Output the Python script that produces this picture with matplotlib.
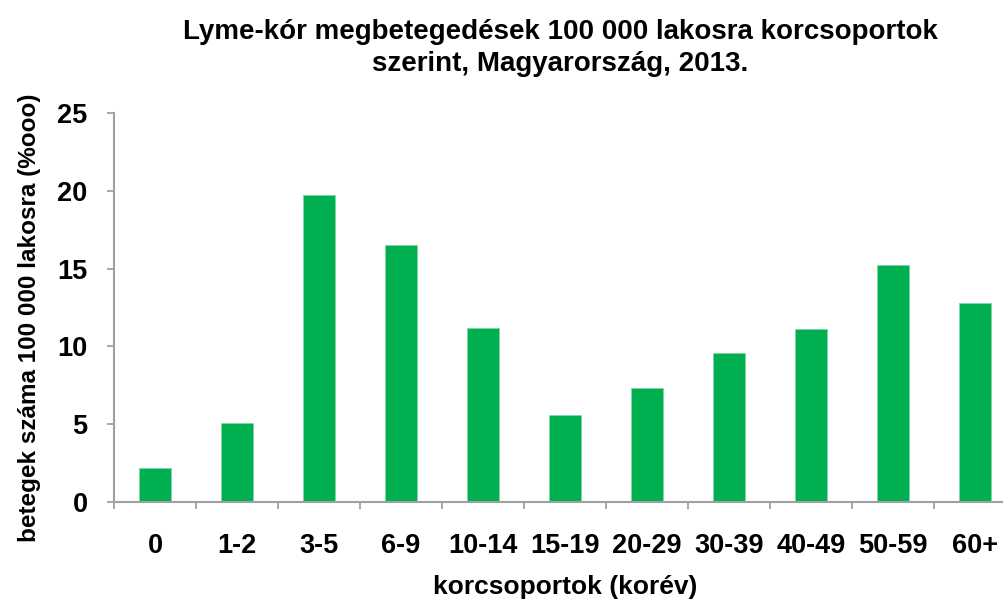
import matplotlib
matplotlib.use("Agg")
import matplotlib.pyplot as plt
from matplotlib.ticker import FixedLocator

categories = ["0", "1-2", "3-5", "6-9", "10-14", "15-19", "20-29", "30-39", "40-49", "50-59", "60+"]
values = [2.2, 5.1, 19.7, 16.5, 11.2, 5.6, 7.3, 9.6, 11.1, 15.2, 12.8]
yticks = [0, 5, 10, 15, 20, 25]

plt.rcParams['font.family'] = ['Liberation Sans', 'DejaVu Sans']
plt.rcParams['font.weight'] = 'bold'

W, H = 1004, 599
fig = plt.figure(figsize=(W / 100, H / 100), dpi=100)
left, right, top, bottom = 114, 1016, 113, 502
ax = fig.add_axes([left / W, (H - bottom) / H, (right - left) / W, (bottom - top) / H])

x = list(range(len(categories)))
ax.bar(x, values, width=0.4, color="#00B050", edgecolor="#7FD8A6", linewidth=0.6, zorder=2)

ax.set_xlim(-0.5, len(categories) - 0.5)
ax.set_ylim(0, 25)
ax.set_yticks(yticks)
ax.set_yticklabels([str(t) for t in yticks], fontsize=19.5, fontweight='bold')
ax.set_xticks(x)
ax.set_xticklabels(categories, fontsize=19.5, fontweight='bold')
ax.xaxis.set_minor_locator(FixedLocator([i - 0.5 for i in range(len(categories) + 1)]))
ax.tick_params(axis='x', which='major', length=0, pad=22)
ax.tick_params(axis='x', which='minor', length=5, width=1.3, color='#A0A0A0', direction='out')
ax.tick_params(axis='y', which='major', length=5, width=1.3, color='#A0A0A0', pad=14)

for s in ['top', 'right']:
    ax.spines[s].set_visible(False)
for s in ['left', 'bottom']:
    ax.spines[s].set_color('#A0A0A0')
    ax.spines[s].set_linewidth(1.5)

ax.set_xlabel("korcsoportok (korév)", fontsize=19, fontweight='bold', labelpad=12)
fig.text(30 / W, 0.5 * ((H - 540) + (H - 95)) / H, "betegek száma 100 000 lakosra (%ooo)",
         rotation=90, ha='center', va='center', fontsize=17.5, fontweight='bold')
fig.text(560 / W, 1 - 48 / H, "Lyme-kór megbetegedések 100 000 lakosra korcsoportok\nszerint, Magyarország, 2013.",
         ha='center', va='center', fontsize=20, fontweight='bold', linespacing=1.3)

fig.savefig("out.png", dpi=100)
